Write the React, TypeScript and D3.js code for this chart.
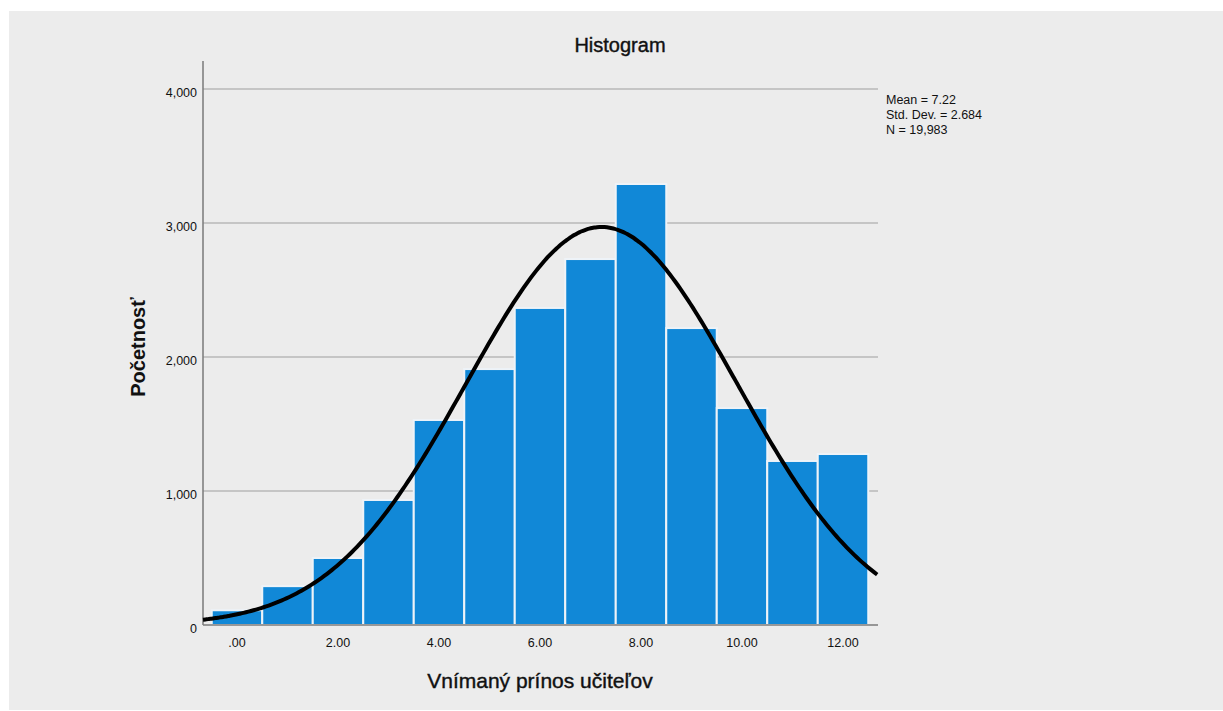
import React from "react";
import * as d3 from "d3";

// bin centres and counts
const binCenters = [0, 1, 2, 3, 4, 5, 6, 7, 8, 9, 10, 11, 12];
const binCounts = [110, 290, 500, 933, 1530, 1910, 2366, 2731, 3291, 2216, 1619, 1224, 1276];
const yTicks = [0, 1000, 2000, 3000, 4000];
const xTicks = [0, 2, 4, 6, 8, 10, 12];
const statsLines = ["Mean = 7.22", "Std. Dev. = 2.684", "N = 19,983"];
const mean = 7.22;
const sd = 2.684;
const n = 19983;

const W = 1223;
const H = 711;
const font = "Arial, 'Liberation Sans', sans-serif";

export default function App() {
  const x = d3.scaleLinear().domain([0, 12]).range([237, 843]);
  const y = d3.scaleLinear().domain([0, 4000]).range([625, 89]);
  const [x0, x1] = [x.invert(203), x.invert(878)];

  const yFmt = d3.format(",");
  const xFmt = (v: number) => (v === 0 ? ".00" : v.toFixed(2));

  // fitted normal curve (bin width 1)
  const curvePts = d3.range(x0, x1 + 0.001, 0.05).map((v) => {
    const z = (v - mean) / sd;
    return [v, (n / (sd * Math.sqrt(2 * Math.PI))) * Math.exp(-0.5 * z * z)] as [number, number];
  });
  const line = d3
    .line<[number, number]>()
    .x((d) => x(d[0]))
    .y((d) => y(d[1]))
    .curve(d3.curveBasis);

  return (
    <svg
      width={W}
      height={H}
      style={{ position: "absolute", left: 0, top: 0, fontFamily: font }}
    >
      <rect x={0} y={0} width={W} height={H} fill="#ffffff" />
      <rect x={9} y={11} width={W - 9} height={H - 12} fill="#ececec" />

      <text x={620} y={52} textAnchor="middle" fontSize={20} fill="#111" stroke="#111" strokeWidth={0.4}>
        Histogram
      </text>

      {/* gridlines */}
      {yTicks.slice(1).map((t) => (
        <line key={t} x1={203} x2={878} y1={y(t)} y2={y(t)} stroke="#b9b9b9" strokeWidth={1.6} />
      ))}

      {/* bars */}
      {binCenters.map((c, i) => (
        <rect
          key={c}
          x={x(c - 0.5)}
          y={y(binCounts[i])}
          width={x(c + 0.5) - x(c - 0.5)}
          height={y(0) - y(binCounts[i])}
          fill="#1188d7"
          stroke="#eef3f8"
          strokeWidth={2}
        />
      ))}

      {/* axes */}
      <line x1={203} x2={203} y1={61} y2={625} stroke="#7a7a7a" strokeWidth={1.5} />
      <line x1={203} x2={878} y1={625} y2={625} stroke="#7a7a7a" strokeWidth={1.5} />

      <path d={line(curvePts) ?? ""} fill="none" stroke="#000" strokeWidth={4} />

      {yTicks.map((t) => (
        <text key={t} x={197} y={y(t) + 8} textAnchor="end" fontSize={12.5} fill="#111">
          {yFmt(t)}
        </text>
      ))}
      {xTicks.map((t) => (
        <text key={t} x={x(t)} y={647} textAnchor="middle" fontSize={12.5} fill="#111">
          {xFmt(t)}
        </text>
      ))}

      <text x={540} y={688} textAnchor="middle" fontSize={21} fill="#111" stroke="#111" strokeWidth={0.4}>
        Vnímaný prínos učiteľov
      </text>
      <text
        transform="translate(145,347) rotate(-90)"
        textAnchor="middle"
        fontSize={20}
        fontWeight="bold"
        fill="#111"
      >
        Početnosť
      </text>

      {statsLines.map((s, i) => (
        <text key={s} x={886} y={104 + i * 15} fontSize={12.5} fill="#111">
          {s}
        </text>
      ))}
    </svg>
  );
}
